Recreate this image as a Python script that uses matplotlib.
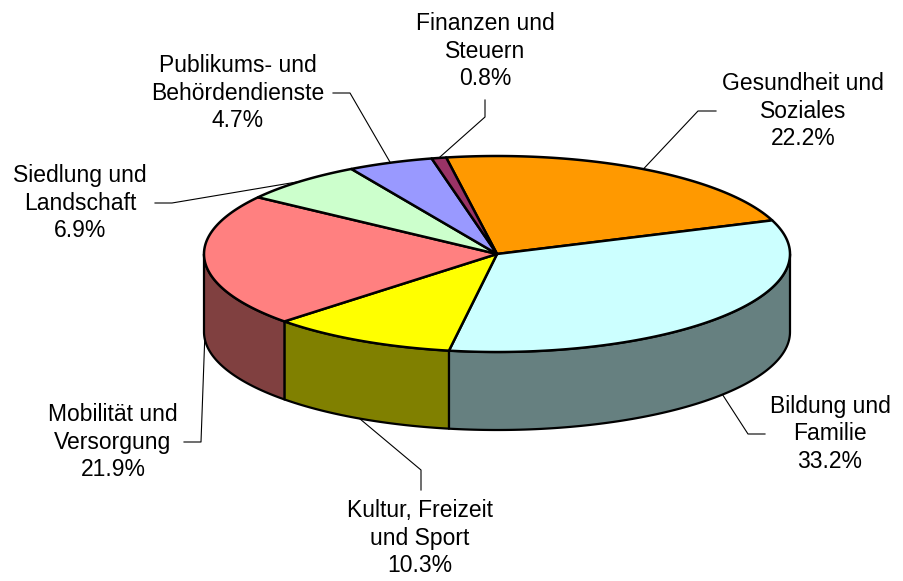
import matplotlib
matplotlib.use("Agg")
import matplotlib.pyplot as plt
import numpy as np
from matplotlib.patches import Polygon

plt.rcParams["font.family"] = ["Liberation Sans", "DejaVu Sans"]

# data
categories = [
    "Gesundheit und\nSoziales",
    "Bildung und\nFamilie",
    "Kultur, Freizeit\nund Sport",
    "Mobilität und\nVersorgung",
    "Siedlung und\nLandschaft",
    "Publikums- und\nBehördendienste",
    "Finanzen und\nSteuern",
]
shares = [22.2, 33.2, 10.3, 21.9, 6.9, 4.7, 0.8]
top_colors = ["#FF9900", "#CCFFFF", "#FFFF00", "#FF8080", "#CCFFCC", "#9999FF", "#993366"]
side_colors = ["#804C00", "#668080", "#808000", "#804040", "#668066", "#4C4C80", "#4C1933"]

# layout in pixel coordinates (y grows downwards)
CX, CY, RX, RY, DEPTH = 497, 254, 293, 98, 78
START = -10.0  # degrees, clockwise from 12 o'clock
label_pos = [(803, 111), (830, 434), (420, 538), (113, 442), (80, 203), (238, 93), (485, 51)]
elbows = [
    [(716, 111), (698, 111)],
    [(765, 434), (748, 434)],
    [(421, 490), (421, 470)],
    [(184, 442), (201, 442)],
    [(155, 203), (172, 203)],
    [(333, 93), (350, 93)],
    [(485, 100), (485, 117)],
]


def rim(t_deg, dy=0.0):
    t = np.radians(t_deg)
    return CX + RX * np.sin(t), CY - RY * np.cos(t) + dy


def arc(t0, t1, dy=0.0, n=120):
    ts = np.linspace(t0, t1, max(2, int(abs(t1 - t0) / 1.0) + 2))
    xs, ys = rim(ts, dy)
    return np.column_stack([xs, ys])


fig = plt.figure(figsize=(9.04, 5.81), dpi=100)
ax = fig.add_axes([0, 0, 1, 1])
ax.set_xlim(0, 904)
ax.set_ylim(581, 0)
ax.axis("off")

bounds = START + 360.0 * np.concatenate([[0], np.cumsum(shares)]) / 100.0

# side walls (front half only: 90..270 deg)
for i in range(len(shares)):
    t0, t1 = bounds[i], bounds[i + 1]
    for lo, hi in [(90, 270), (450, 630)]:
        a, b = max(t0, lo), min(t1, hi)
        if b <= a:
            continue
        top = arc(a, b)
        bot = arc(b, a, dy=DEPTH)
        ax.add_patch(Polygon(np.vstack([top, bot]), closed=True,
                             facecolor=side_colors[i], edgecolor="black",
                             linewidth=1.6, joinstyle="round"))

# top faces
for i in range(len(shares)):
    pts = np.vstack([[CX, CY], arc(bounds[i], bounds[i + 1])])
    ax.add_patch(Polygon(pts, closed=True, facecolor=top_colors[i],
                         edgecolor="black", linewidth=1.8, joinstyle="round"))

# labels and leader lines
for i, (cat, val) in enumerate(zip(categories, shares)):
    mid = (bounds[i] + bounds[i + 1]) / 2
    front = np.cos(np.radians(mid)) < 0
    ax_x, ax_y = rim(mid, DEPTH if front else 0.0)
    (x0, y0), (x1, y1) = elbows[i]
    ax.plot([x0, x1, ax_x], [y0, y1, ax_y], color="black", lw=0.8)
    lx, ly = label_pos[i]
    ax.text(lx, ly, f"{cat}\n{val:.1f}%", ha="center", va="center",
            fontsize=16.5, linespacing=1.25, color="black")

fig.savefig("out.png", dpi=100)
